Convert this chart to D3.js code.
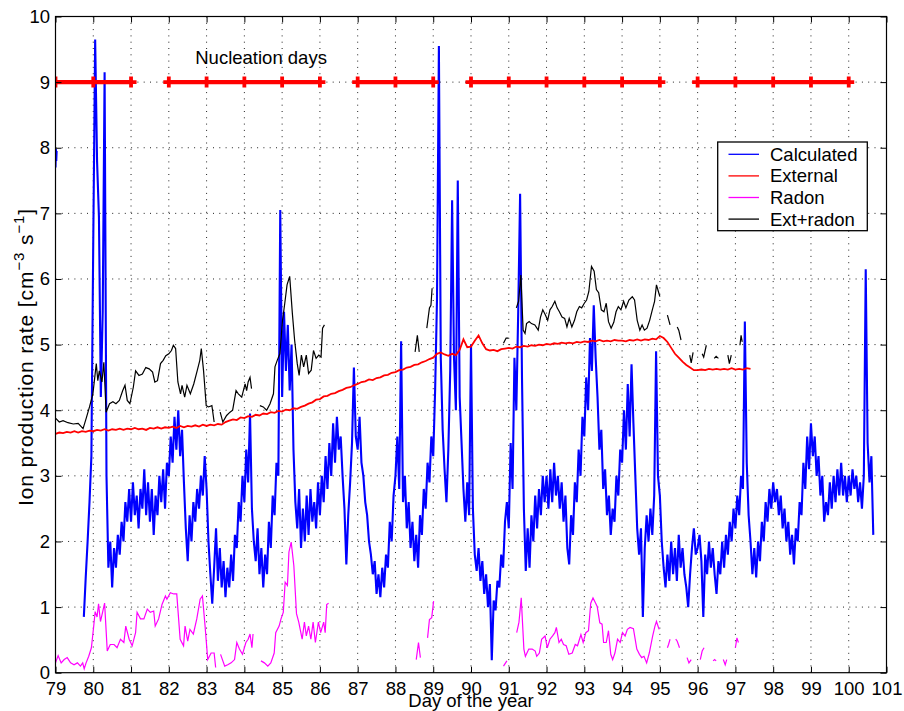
<!DOCTYPE html>
<html>
<head>
<meta charset="utf-8">
<script src="https://cdn.jsdelivr.net/npm/d3@7"></script>
<style>
  body { margin: 0; background: #fff; }
  svg text { font-family: "Liberation Sans", Arial, Helvetica, sans-serif; fill: #000; }
</style>
</head>
<body>
<svg id="chart" width="904" height="711"></svg>
<script>
// ---- data ----
var xTicks = [79,80,81,82,83,84,85,86,87,88,89,90,91,92,93,94,95,96,97,98,99,100,101]
var yTicks = [0,1,2,3,4,5,6,7,8,9,10]

// calculated ion production, first short piece (step 0.01 day) and main record (step 0.05 day)
var calcEarlyStart = 79.0, calcEarlyStep = 0.01
var calcEarly = [7.7, 7.98, 7.8, 7.95]
var calcStart = 79.75, calcStep = 0.05
var calcValues = [
  0.85, 1.45, 2.0, 2.6, 3.3,
  6.6, 9.65, 7.8, 6.95, 4.2, 5.5, 9.15, 3.0, 1.6, 2.0, 1.3, 1.9, 1.6, 2.1, 1.8, 2.3, 2.0, 2.6, 2.3, 2.8,
  2.3, 2.9, 2.4, 2.7, 2.2, 2.8, 2.5, 3.1, 2.4, 2.9, 2.3, 2.8, 2.1, 2.7, 2.4, 3.0, 2.6, 3.1, 2.5, 3.2,
  3.0, 3.6, 3.2, 3.9, 3.4, 4.0, 3.3, 3.7, 2.9, 2.2, 1.7, 2.4, 2.0, 2.6, 2.3, 2.8, 2.5, 3.0, 2.7, 3.3,
  2.8, 2.0, 1.5, 1.05, 1.6, 2.2, 1.4, 1.9, 1.3, 1.7, 1.15, 1.6, 1.3, 1.8, 1.4, 2.1, 1.9, 2.6, 2.3, 3.0,
  2.6, 3.4, 2.9, 3.95, 2.5, 2.0, 1.7, 2.2, 1.5, 1.9, 1.3, 1.8, 1.5, 2.3, 1.9, 2.7, 2.4, 3.2, 3.0, 7.05,
  4.2, 5.5, 4.6, 5.3, 4.3, 5.0, 3.4, 2.6, 2.2, 2.8, 1.9, 2.5, 2.0, 2.7, 2.1, 2.8, 2.3, 2.6, 2.2, 2.9,
  2.4, 3.0, 2.6, 3.3, 2.8, 3.5, 3.0, 3.8, 3.2, 3.9, 3.4, 3.6, 3.0, 2.5, 1.65, 2.4, 2.9, 3.5, 4.65, 3.6,
  3.4, 3.9, 3.2, 3.0, 2.6, 2.4, 2.0, 1.8, 1.5, 1.7, 1.2, 1.5, 1.15, 1.6, 1.3, 1.8, 1.6, 2.3, 2.0, 2.7,
  3.0, 3.6, 2.8, 5.05, 2.6, 3.0, 2.2, 2.6, 1.9, 2.3, 1.7, 2.1, 1.6, 2.4, 2.1, 2.8, 2.5, 3.2, 2.9, 3.6,
  3.3, 4.3, 5.7, 9.55, 4.8, 3.7, 3.1, 2.6, 3.4, 4.6, 7.2, 4.8, 4.0, 7.5, 4.2, 3.5, 2.8, 2.3, 2.9, 2.4,
  5.0, 2.5, 1.8, 1.55, 1.9, 1.4, 1.7, 1.2, 1.5, 1.0, 1.35, 0.19, 1.1, 0.95, 1.4, 1.3, 1.8, 1.6, 2.3, 2.6,
  2.2, 3.5, 2.8, 4.8, 4.0, 5.5, 7.3, 4.5, 2.5, 1.55, 2.2, 1.6, 2.4, 2.0, 2.7, 2.2, 2.8, 2.4, 3.0, 2.6,
  3.0, 2.5, 3.1, 2.6, 3.2, 2.7, 3.0, 2.5, 2.9, 2.3, 2.7, 1.9, 1.65, 2.4, 2.1, 2.9, 2.6, 3.4, 3.0, 3.9,
  3.6, 4.5, 4.0, 5.1, 4.6, 5.6, 4.8, 4.2, 3.4, 3.7, 2.8, 3.1, 2.4, 2.7, 2.1, 2.5, 2.3, 3.0, 2.7, 3.4,
  3.2, 4.0, 3.4, 4.4, 3.6, 4.7, 3.8, 3.0, 2.2, 1.8, 2.2, 0.85, 1.9, 2.4, 2.0, 2.5, 2.1, 2.7, 4.9, 3.0,
  2.7, 2.0, 1.6, 1.3, 1.8, 1.4, 2.0, 1.5, 1.9, 1.4, 2.1, 1.6, 1.9, 1.5, 1.3, 1.0, 1.5, 1.9, 2.2, 1.8,
  1.9, 2.1, 1.7, 0.85, 1.8, 1.5, 2.0, 1.6, 1.9, 1.5, 1.2, 1.7, 1.5, 2.0, 1.6, 2.1, 1.8, 2.3, 2.0, 2.5,
  2.2, 2.7, 2.4, 3.0, 2.8, 5.35, 3.2, 2.4, 2.0, 1.5, 1.9, 1.45, 2.0, 1.7, 2.3, 2.0, 2.6, 2.3, 2.8, 2.5,
  2.9, 2.6, 2.8, 2.4, 2.7, 2.2, 2.5, 2.0, 2.3, 1.8, 2.1, 1.65, 2.2, 2.0, 2.6, 2.4, 3.2, 2.8, 3.6, 3.1,
  3.8, 3.3, 3.6, 3.0, 3.3, 2.7, 3.0, 2.3, 2.6, 2.4, 2.9, 2.5, 3.0, 2.6, 3.1, 2.7, 3.2, 2.7, 3.0, 2.6,
  3.0, 2.7, 3.1, 2.8, 3.0, 2.6, 2.9, 2.5, 3.0, 6.15, 3.5, 2.9, 3.3, 2.1
]

// external radiation (step 0.1 day)
var extStart = 79.0, extStep = 0.1
var extValues = [
  3.64, 3.66, 3.65, 3.67, 3.66, 3.68, 3.66, 3.68, 3.67, 3.69,
  3.68, 3.70, 3.69, 3.71, 3.69, 3.71, 3.70, 3.72, 3.70, 3.72,
  3.71, 3.73, 3.71, 3.72, 3.70, 3.73, 3.72, 3.74, 3.72, 3.74,
  3.73, 3.75, 3.73, 3.76, 3.74, 3.76, 3.75, 3.77, 3.75, 3.78,
  3.76, 3.78, 3.77, 3.79, 3.78, 3.82, 3.84, 3.86, 3.85, 3.89,
  3.88, 3.91, 3.90, 3.93, 3.92, 3.95, 3.94, 3.97, 3.96, 3.99,
  3.98, 4.01, 4.00, 4.03, 4.02, 4.05, 4.07, 4.10, 4.12, 4.16,
  4.17, 4.21, 4.22, 4.25, 4.26, 4.29, 4.31, 4.34, 4.35, 4.38,
  4.40, 4.43, 4.44, 4.47, 4.46, 4.49, 4.50, 4.53, 4.54, 4.57,
  4.58, 4.61, 4.62, 4.65, 4.66, 4.69, 4.70, 4.73, 4.75, 4.78,
  4.80, 4.86, 4.88, 4.85, 4.83, 4.86, 4.84, 4.92, 5.08, 4.96,
  4.97, 5.06, 5.14, 5.02, 4.93, 4.91, 4.92, 4.90, 4.93, 4.94,
  4.95, 4.94, 4.97, 4.96, 4.98, 4.97, 4.99, 4.98, 5.00, 4.99,
  5.01, 5.00, 5.02, 5.01, 5.03, 5.02, 5.03, 5.02, 5.04, 5.03,
  5.05, 5.04, 5.06, 5.05, 5.07, 5.05, 5.06, 5.05, 5.07, 5.06,
  5.06, 5.05, 5.07, 5.06, 5.08, 5.06, 5.08, 5.07, 5.09, 5.08,
  5.13, 5.10, 5.04, 4.95, 4.86, 4.80, 4.74, 4.69, 4.65, 4.61,
  4.61, 4.62, 4.61, 4.63, 4.62, 4.63, 4.62, 4.63, 4.62, 4.64,
  4.62, 4.63, 4.62, 4.64, 4.63
]

// radon (null = gap in the record)
var radonDays = [79.0, 79.07, 79.15, 79.23, 79.31, 79.4, 79.49, 79.58, 79.66, 79.72, 79.76, 79.81, 79.88, 79.95,
  80.01, 80.05, 80.1, 80.14, 80.19, 80.25, 80.3, 80.37, 80.45, 80.55, 80.63, 80.72, 80.81, 80.86, 80.95,
  81.03, 81.12, 81.16, 81.25, 81.34, 81.43, 81.51, 81.6, 81.64, 81.73, 81.82, 81.91, 81.95,
  82.04, 82.13, 82.21, 82.3, 82.39, 82.43, 82.5, 82.56, 82.65, 82.74, 82.83, 82.89, 82.96,
  83.03, 83.12, 83.2, 83.24, null, 83.37, 83.48, 83.56, 83.65, 83.74, 83.8, 83.87, 83.95,
  84.04, 84.1, 84.15, 84.2, 84.23, null, 84.44, 84.53, 84.62, 84.7, 84.79, 84.83, 84.92, 84.97,
  85.03, 85.08, 85.14, 85.18, 85.24, 85.31, 85.38, 85.44, 85.53, 85.59, 85.64, 85.7, 85.76, 85.82, 85.88, 85.96,
  86.02, 86.1, 86.14, 86.18, 86.23, null,
  88.55, 88.61, 88.66, null, 88.85, 88.9, 88.96, 89.01, null, 90.86, 90.95, null,
  91.21, 91.27, 91.33, 91.4, 91.44, 91.53, 91.62, 91.7, 91.74, 91.81, 91.87, 91.96,
  92.02, 92.09, 92.16, 92.22, 92.26, 92.33, 92.39, 92.45, 92.52, 92.59, 92.68, 92.76, 92.82, 92.91, 92.97,
  93.04, 93.11, 93.17, 93.23, 93.3, 93.34, 93.41, 93.47, 93.51, 93.58, 93.64, 93.7, 93.75, 93.81, 93.88, 93.95,
  94.01, 94.08, 94.14, 94.21, 94.3, 94.39, 94.46, 94.52, 94.58, 94.65, 94.72, 94.81, 94.87, 94.91, 94.98, null,
  95.2, 95.23, 95.27, null, 95.42, 95.46, 95.52, null, 95.72, 95.77, 95.83, null,
  96.07, 96.12, 96.17, null, 96.41, 96.45, 96.49, null, 96.68, 96.73, 96.77, null, 97.0, 97.04, 97.08]
var radonValues = [0.15, 0.26, 0.15, 0.2, 0.23, 0.15, 0.12, 0.15, 0.1, 0.15, 0.06, 0.15, 0.25, 0.38,
  0.7, 0.93, 0.85, 1.05, 0.78, 0.93, 1.06, 0.33, 0.43, 0.43, 0.38, 0.51, 0.46, 0.71, 0.51,
  0.41, 0.61, 0.92, 0.82, 0.82, 0.97, 0.92, 0.94, 0.71, 0.82, 1.04, 1.17, 1.12,
  1.22, 1.2, 1.2, 0.51, 0.41, 0.71, 0.48, 0.66, 0.59, 0.82, 1.12, 1.17, 0.71,
  0.2, 0.3, 0.3, 0.08, null, 0.28, 0.1, 0.12, 0.15, 0.2, 0.46, 0.36, 0.28,
  0.46, 0.51, 0.59, 0.38, 0.59, null, 0.18, 0.15, 0.1, 0.15, 0.3, 0.61, 0.71, 0.82,
  0.92, 1.38, 1.33, 1.84, 1.99, 1.63, 0.9, 0.77, 0.51, 0.77, 0.56, 0.71, 0.51, 0.77, 0.46, 0.77,
  0.61, 0.77, 0.61, 1.04, 1.06, null,
  0.2, 0.46, 0.23, null, 0.53, 0.81, 0.84, 1.09, null, 0.1, 0.18, null,
  0.61, 0.77, 1.14, 0.36, 0.25, 0.36, 0.36, 0.33, 0.25, 0.3, 0.51, 0.56,
  0.38, 0.51, 0.56, 0.61, 0.69, 0.46, 0.51, 0.43, 0.41, 0.28, 0.3, 0.43, 0.41, 0.58, 0.46,
  0.61, 0.64, 1.06, 1.14, 1.06, 1.01, 0.76, 0.74, 0.46, 0.46, 0.64, 0.28, 0.2, 0.3, 0.51, 0.46,
  0.61, 0.56, 0.66, 0.69, 0.67, 0.36, 0.28, 0.23, 0.25, 0.15, 0.3, 0.56, 0.71, 0.78, 0.66, null,
  0.38, 0.43, 0.51, null, 0.51, 0.48, 0.38, null, 0.23, 0.15, 0.2, null,
  0.2, 0.33, 0.38, null, 0.18, 0.2, 0.18, null, 0.2, 0.12, 0.2, null, 0.38, 0.53, 0.46]

// external + radon
var extRadonDays = [79.0, 79.1, 79.2, 79.33, 79.47, 79.6, 79.73, 79.82, 79.9, 79.99,
  80.08, 80.12, 80.16, 80.23, 80.28, 80.34, 80.43, 80.52, 80.6, 80.69, 80.78, 80.84, 80.9, 80.97,
  81.06, 81.12, 81.21, 81.3, 81.39, 81.48, 81.57, 81.63, 81.7, 81.78, 81.85, 81.92,
  82.0, 82.07, 82.12, 82.18, 82.24, 82.31, 82.35, 82.42, 82.48, 82.57, 82.66, 82.75, 82.82, 82.86, 82.92, 82.99,
  83.05, 83.14, 83.2, null, 83.36, 83.43, 83.53, 83.62, 83.69, 83.78, 83.84, 83.93,
  84.02, 84.06, 84.1, 84.15, 84.19, null, 84.41, 84.5, 84.59, 84.68, 84.77, 84.81, 84.87, 84.94,
  85.01, 85.07, 85.13, 85.2, 85.27, 85.33, 85.4, 85.45, 85.51, 85.57, 85.64, 85.7, 85.77, 85.83, 85.9, 85.97,
  86.03, 86.07, 86.12, null,
  88.52, 88.58, 88.63, null, 88.83, 88.9, 88.94, 88.97, null, 90.86, 90.93, 90.99, null,
  91.2, 91.26, 91.32, 91.38, 91.43, 91.47, 91.54, 91.6, 91.69, 91.78, 91.84, 91.9, 91.97,
  92.03, 92.09, 92.15, 92.22, 92.28, 92.34, 92.41, 92.48, 92.54, 92.6, 92.67, 92.74, 92.8, 92.87, 92.93,
  93.0, 93.06, 93.12, 93.19, 93.26, 93.32, 93.38, 93.45, 93.52, 93.58, 93.64, 93.71, 93.78, 93.84, 93.9, 93.97,
  94.04, 94.1, 94.18, 94.27, 94.33, 94.4, 94.47, 94.53, 94.59, 94.66, 94.73, 94.8, 94.86, 94.91, 94.97, 95.0, null,
  95.2, 95.27, null, 95.46, 95.5, 95.56, null, 95.79, 95.83, 95.88, null,
  96.12, 96.16, 96.23, null, 96.44, 96.49, 96.55, null, 96.8, 96.84, 96.89, null, 97.12, 97.15, 97.18]
var extRadonValues = [3.88, 3.82, 3.84, 3.81, 3.79, 3.8, 3.72, 3.89, 4.05, 4.25,
  4.71, 4.45, 4.6, 4.43, 4.73, 3.97, 4.1, 4.13, 4.1, 4.15, 4.3, 4.38, 4.15, 4.1,
  4.35, 4.6, 4.53, 4.55, 4.65, 4.63, 4.58, 4.43, 4.45, 4.71, 4.76, 4.83,
  4.86, 4.91, 4.99, 4.94, 4.43, 4.25, 4.38, 4.2, 4.38, 4.25, 4.4, 4.6, 4.76, 4.94, 4.6, 4.07,
  4.05, 4.07, 3.82, null, 3.97, 3.82, 3.92, 3.97, 4.0, 4.3, 4.25, 4.2,
  4.4, 4.3, 4.43, 4.5, 4.33, null, 4.07, 4.05, 4.0, 4.1, 4.25, 4.66, 4.76, 4.86,
  5.37, 5.63, 5.91, 6.04, 5.48, 5.07, 4.71, 4.53, 4.84, 4.66, 4.84, 4.56, 4.61, 4.91, 4.79, 4.84,
  4.81, 5.25, 5.3, null,
  4.89, 5.14, 4.89, null, 5.25, 5.56, 5.6, 5.86, null, 5.02, 5.1, 5.1, null,
  5.56, 5.66, 6.06, 5.22, 5.17, 5.32, 5.35, 5.32, 5.3, 5.22, 5.42, 5.53, 5.45,
  5.37, 5.53, 5.58, 5.66, 5.56, 5.5, 5.42, 5.4, 5.27, 5.4, 5.27, 5.37, 5.5, 5.58, 5.56,
  5.63, 5.68, 5.81, 6.19, 6.12, 5.84, 5.79, 5.53, 5.5, 5.63, 5.35, 5.25, 5.34, 5.5, 5.58, 5.53,
  5.66, 5.56, 5.68, 5.73, 5.68, 5.37, 5.22, 5.3, 5.22, 5.25, 5.37, 5.53, 5.66, 5.91, 5.79, 5.73, null,
  5.45, 5.3, null, 5.27, 5.22, 5.07, null, 4.84, 4.72, 4.88, null,
  4.86, 4.81, 4.99, null, 4.79, 4.82, 4.79, null, 4.84, 4.71, 4.84, null, 4.99, 5.14, 5.04]

// nucleation days, drawn at level 9 (null = no event between days)
var nucleationDays = [79, 80, 81, null, 82, 83, 84, 85, 86, null, 87, 88, 89, null,
  90, 91, 92, 93, 94, 95, null, 96, 97, 98, 99, 100]
var nucleationLevel = 9
var nucleationLabel = "Nucleation days"
var nucleationLabelPos = [82.7, 9.27]

var legendNames = ["Calculated", "External", "Radon", "Ext+radon"]
var legendColors = ["#0000ff", "#ff0000", "#ff00ff", "#000000"]

// ---- layout ----
var svg = d3.select("#chart")
var plotLeft = 55.5, plotRight = 886.5, plotTop = 16.5, plotBottom = 672.7
var font = 18.5

var x = d3.scaleLinear().domain([79, 101]).range([plotLeft, plotRight])
var y = d3.scaleLinear().domain([0, 10]).range([plotBottom, plotTop])

svg.append("rect").attr("width", 904).attr("height", 711).attr("fill", "#fff")

svg.append("clipPath").attr("id", "plotclip")
  .append("rect").attr("x", plotLeft).attr("y", plotTop)
  .attr("width", plotRight - plotLeft).attr("height", plotBottom - plotTop)

// dotted grid
var grid = svg.append("g")
grid.selectAll(".vgrid").data(xTicks.slice(1, -1)).enter().append("line")
  .attr("x1", function (d) { return x(d) }).attr("x2", function (d) { return x(d) })
  .attr("y1", plotTop).attr("y2", plotBottom)
  .style("stroke", "#222").style("stroke-width", 1).style("stroke-dasharray", "1,5.3")
grid.selectAll(".hgrid").data(yTicks.slice(1, -1)).enter().append("line")
  .attr("x1", plotLeft).attr("x2", plotRight)
  .attr("y1", function (d) { return y(d) }).attr("y2", function (d) { return y(d) })
  .style("stroke", "#222").style("stroke-width", 1).style("stroke-dasharray", "1,5.3")

// series
var plot = svg.append("g").attr("clip-path", "url(#plotclip)")

var calcData = []
calcEarly.forEach(function (v, i) { calcData.push([calcEarlyStart + i * calcEarlyStep, v]) })
calcData.push([null, null])
calcValues.forEach(function (v, i) { calcData.push([calcStart + i * calcStep, v]) })

var extData = extValues.map(function (v, i) { return [extStart + i * extStep, v] })
var radonData = radonDays.map(function (d, i) { return [d, radonValues[i]] })
var extRadonData = extRadonDays.map(function (d, i) { return [d, extRadonValues[i]] })

var line = d3.line()
  .defined(function (d) { return d[0] != null && d[1] != null })
  .x(function (d) { return x(d[0]) })
  .y(function (d) { return y(d[1]) })

plot.append("path").datum(calcData).attr("d", line)
  .style("fill", "none").style("stroke", "#0000ff").style("stroke-width", 2.1)
plot.append("path").datum(extData).attr("d", line)
  .style("fill", "none").style("stroke", "#ff0000").style("stroke-width", 1.8)
plot.append("path").datum(radonData).attr("d", line)
  .style("fill", "none").style("stroke", "#ff00ff").style("stroke-width", 1.2)
plot.append("path").datum(extRadonData).attr("d", line)
  .style("fill", "none").style("stroke", "#000").style("stroke-width", 1.2)

// nucleation days
var nucData = nucleationDays.map(function (d) { return [d, d == null ? null : nucleationLevel] })
plot.append("path").datum(nucData).attr("d", line)
  .style("fill", "none").style("stroke", "#ff0000").style("stroke-width", 4.4)
plot.selectAll(".nucmark").data(nucleationDays.filter(function (d) { return d != null })).enter()
  .append("path")
  .attr("transform", function (d) { return "translate(" + x(d) + "," + y(nucleationLevel) + ")" })
  .attr("d", "M-5.5,0H5.5M0,-5.5V5.5")
  .style("stroke", "#ff0000").style("stroke-width", 3.8)

svg.append("text")
  .attr("x", x(nucleationLabelPos[0])).attr("y", y(nucleationLabelPos[1]))
  .style("font-size", font + "px")
  .text(nucleationLabel)

// axes (ticks inside, as in the original figure)
var xAxis = svg.append("g").attr("transform", "translate(0," + plotBottom + ")")
  .call(d3.axisBottom(x).tickValues(xTicks).tickSize(-6).tickPadding(9).tickFormat(d3.format("d")))
var xTop = svg.append("g").attr("transform", "translate(0," + plotTop + ")")
  .call(d3.axisTop(x).tickValues(xTicks).tickSize(-6).tickFormat(""))
var yAxis = svg.append("g").attr("transform", "translate(" + plotLeft + ",0)")
  .call(d3.axisLeft(y).tickValues(yTicks).tickSize(-6).tickPadding(5.5).tickFormat(d3.format("d")))
var yRight = svg.append("g").attr("transform", "translate(" + plotRight + ",0)")
  .call(d3.axisRight(y).tickValues(yTicks).tickSize(-6).tickFormat(""))

;[xAxis, xTop, yAxis, yRight].forEach(function (a) {
  a.select(".domain").remove()
  a.selectAll("line").style("stroke", "#000").style("stroke-width", 1)
  a.selectAll("text").style("font-size", font + "px").style("font-family", "'Liberation Sans', Arial, sans-serif").style("fill", "#000")
})

svg.append("rect")
  .attr("x", plotLeft).attr("y", plotTop)
  .attr("width", plotRight - plotLeft).attr("height", plotBottom - plotTop)
  .style("fill", "none").style("stroke", "#000").style("stroke-width", 1.2)

// axis labels
svg.append("text")
  .attr("x", (plotLeft + plotRight) / 2).attr("y", 706.5)
  .attr("text-anchor", "middle")
  .style("font-size", font + "px")
  .text("Day of the year")

var ylab = svg.append("text")
  .attr("transform", "translate(33," + 357 + ")rotate(-90)")
  .attr("text-anchor", "middle")
  .style("font-size", "21px")
  .style("letter-spacing", "0.9px")
ylab.append("tspan").text("Ion production rate [cm")
ylab.append("tspan").attr("dy", -9).style("font-size", "15px").text("\u22123")
ylab.append("tspan").attr("dy", 9).text(" s")
ylab.append("tspan").attr("dy", -9).style("font-size", "15px").text("\u22121")
ylab.append("tspan").attr("dy", 9).text("]")

// legend
var lg = svg.append("g")
lg.append("rect")
  .attr("x", 717.7).attr("y", 142).attr("width", 149.6).attr("height", 88.7)
  .style("fill", "#fff").style("stroke", "#000").style("stroke-width", 1.3)
legendNames.forEach(function (name, i) {
  var ly = 154.3 + i * 21.6
  lg.append("line")
    .attr("x1", 728.5).attr("x2", 759).attr("y1", ly).attr("y2", ly)
    .style("stroke", legendColors[i]).style("stroke-width", 1.3)
  lg.append("text")
    .attr("x", 770).attr("y", ly).attr("dy", "0.35em")
    .style("font-size", font + "px")
    .text(name)
})
</script>
</body>
</html>
